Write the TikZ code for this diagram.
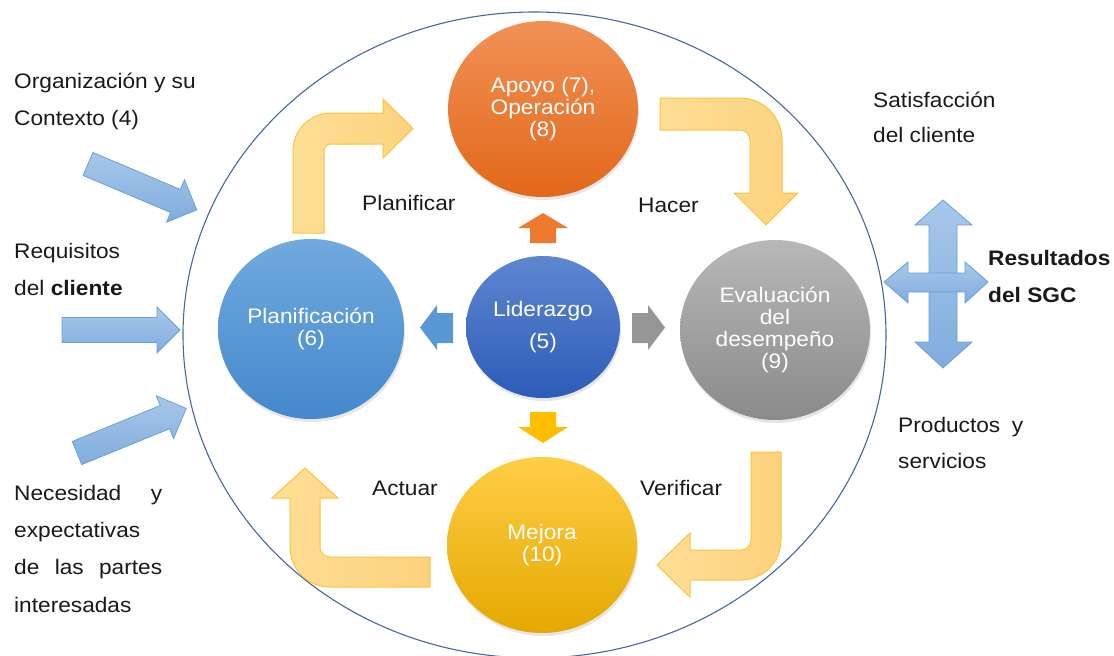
\documentclass[tikz,border=0pt]{standalone}
\usepackage{fontspec}
\setmainfont[FakeStretch=1.08]{Liberation Sans}
\usetikzlibrary{shapes.geometric,shadows}
\definecolor{txt}{RGB}{25,25,25}
\definecolor{ringc}{RGB}{72,102,160}
\definecolor{yl1}{RGB}{254,222,150}
\definecolor{yl2}{RGB}{253,210,125}
\definecolor{arrowline}{RGB}{250,196,60}
\definecolor{bl1}{RGB}{168,200,234}
\definecolor{bl2}{RGB}{128,172,222}
\definecolor{blueline}{RGB}{105,160,215}
\definecolor{or1}{RGB}{241,145,86}
\definecolor{or2}{RGB}{226,104,26}
\definecolor{pl1}{RGB}{112,170,222}
\definecolor{pl2}{RGB}{68,136,204}
\definecolor{li1}{RGB}{94,135,208}
\definecolor{li2}{RGB}{45,92,184}
\definecolor{gr1}{RGB}{184,184,184}
\definecolor{gr2}{RGB}{138,138,138}
\definecolor{me1}{RGB}{255,206,70}
\definecolor{me2}{RGB}{255,192,0}
\definecolor{me3}{RGB}{228,168,0}
\definecolor{smor}{RGB}{237,122,45}
\definecolor{smbl}{RGB}{88,152,212}
\definecolor{smgr}{RGB}{150,150,150}
\definecolor{smye}{RGB}{255,190,0}
\begin{document}
\begin{tikzpicture}[x=1pt,y=-1pt,
  lbl/.style={anchor=base west,inner sep=0pt,text=txt,font=\fontsize{21}{25}\selectfont},
  ball/.style={ellipse,inner sep=0pt,align=center,text=white,
    font=\fontsize{21}{22}\selectfont,
    drop shadow={opacity=0.2,shadow xshift=1pt,shadow yshift=-3pt}},
  bigarrow/.style={draw=arrowline,line width=1pt,left color=yl1,right color=yl2},
  inarrow/.style={draw=blueline,line width=0.8pt,top color=bl1,bottom color=bl2},
  ring/.style={draw=ringc,line width=1.1pt},
  blockarrow/.pic={\path[inarrow] (0,-12.5) -- (95,-12.5) -- (95,-23) -- (118,0)
      -- (95,23) -- (95,12.5) -- (0,12.5) -- cycle;}
]
\useasboundingbox (0,0) rectangle (1114,656);
\clip (0,0) rectangle (1114,656);

% big ring
\draw[ring] (534.5,335) ellipse [x radius=351.5, y radius=323];

% input arrows
\pic[rotate=-22.9] at (88,164) {blockarrow};
\pic at (62,330) {blockarrow};
\pic[rotate=22.2] at (77,453) {blockarrow};

% output cross arrow
\path[inarrow] (929,368) (929,225) -- (915,225) -- (943,200) -- (972,225) -- (957,225)
  -- (957,342) -- (972,342) -- (943,368) -- (915,342) -- (929,342) -- cycle;
\path[inarrow] (908,273) -- (908,262) -- (884,282) -- (908,303) -- (908,292)
  -- (965,292) -- (965,303) -- (988,282) -- (965,262) -- (965,273) -- cycle;

% PDCA curved arrows
\path[bigarrow] (293,233) -- (293,151) arc[start angle=180,end angle=270,radius=38]
  -- (383,113) -- (383,99) -- (413,128.5) -- (383,158) -- (383,144) -- (331,144)
  arc[start angle=270,end angle=180,radius=7] -- (324,233) -- cycle;
\path[bigarrow] (660,98) -- (740,98) arc[start angle=270,end angle=360,radius=42]
  -- (782,193) -- (798,193) -- (766,225) -- (734,193) -- (750,193) -- (750,140)
  arc[start angle=0,end angle=-90,radius=10] -- (660,130) -- cycle;
\path[bigarrow] (751,452) -- (781,452) -- (781,540) arc[start angle=0,end angle=90,radius=40]
  -- (690,580) -- (690,597) -- (657,565) -- (690,533) -- (690,550) -- (741,550)
  arc[start angle=90,end angle=0,radius=10] -- cycle;
\path[bigarrow] (430,557) -- (330,557) arc[start angle=90,end angle=180,radius=10]
  -- (320,498) -- (338,498) -- (305,468) -- (272,498) -- (290,498) -- (290,547)
  arc[start angle=180,end angle=90,radius=40] -- (430,587) -- cycle;

% small arrows around Liderazgo
\fill[smor] (530,243) -- (530,228) -- (518,228) -- (543,213) -- (568,228) -- (556,228) -- (556,243) -- cycle;
\fill[smye] (530,412) -- (530,427) -- (518,427) -- (543,443) -- (568,427) -- (556,427) -- (556,412) -- cycle;
\fill[smbl] (453,313) -- (437,313) -- (437,305) -- (420,327.5) -- (437,350) -- (437,343) -- (453,343) -- cycle;
\fill[smgr] (632,313) -- (648,313) -- (648,305) -- (665,327.5) -- (648,350) -- (648,343) -- (632,343) -- cycle;

% circles
\node[ball,minimum width=190pt,minimum height=176pt,top color=or1,bottom color=or2]
  (apoyo) at (543,109) {Apoyo (7),\\Operación\\(8)};
\node[ball,minimum width=186pt,minimum height=180pt,top color=pl1,bottom color=pl2]
  (plan) at (311,329) {Planificación\\(6)};
\node[ball,minimum width=154pt,minimum height=142pt,top color=li1,bottom color=li2,
  font=\fontsize{21}{32}\selectfont]
  (lider) at (543,327) {Liderazgo\\(5)};
\node[ball,minimum width=190pt,minimum height=180pt,top color=gr1,bottom color=gr2]
  (eval) at (775,330) {Evaluación\\del\\desempeño\\(9)};
\node[ball,minimum width=190pt,minimum height=176pt,top color=me1,middle color=me2,bottom color=me3]
  (mejora) at (542,545) {Mejora\\(10)};

% PDCA labels
\node[lbl] (lplan) at (362,210) {Planificar};
\node[lbl] (lhacer) at (638,212) {Hacer};
\node[lbl] (lact) at (372,495) {Actuar};
\node[lbl] (lver) at (640,495) {Verificar};

% left texts
\node[lbl] (org1) at (14,88) {Organización y su};
\node[lbl] (org2) at (14,125) {Contexto (4)};
\node[lbl] (req1) at (14,258) {Requisitos};
\node[lbl] (req2) at (14,295) {del \textbf{cliente}};
\node[lbl] (nec1) at (14,500) {\hbox to 148pt{Necesidad\hfill y}};
\node[lbl] (nec2) at (14,537) {expectativas};
\node[lbl] (nec3) at (14,574) {\hbox to 148pt{de\hfill las\hfill partes}};
\node[lbl] (nec4) at (14,612) {interesadas};

% right texts
\node[lbl] (sat1) at (873,107) {Satisfacción};
\node[lbl] (sat2) at (873,142) {del cliente};
\node[lbl,font=\fontsize{21}{25}\selectfont\bfseries] (res1) at (988,265) {Resultados};
\node[lbl,font=\fontsize{21}{25}\selectfont\bfseries] (res2) at (988,302) {del SGC};
\node[lbl] (pro1) at (898,432) {\hbox to 125pt{Productos\hfill y}};
\node[lbl] (pro2) at (898,468) {servicios};
\end{tikzpicture}
\end{document}
